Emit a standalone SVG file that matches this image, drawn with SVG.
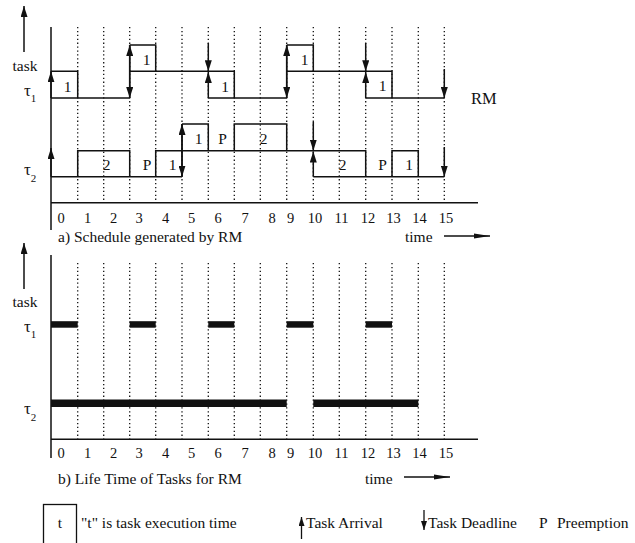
<svg xmlns="http://www.w3.org/2000/svg" width="635" height="543" viewBox="0 0 635 543" font-family="'Liberation Serif', 'Times New Roman', 'DejaVu Serif', serif">
<defs>
<marker id="ah" markerUnits="userSpaceOnUse" markerWidth="11" markerHeight="7" refX="11" refY="3.5" orient="auto">
<path d="M0,0 L11,3.5 L0,7 z" fill="#111"/>
</marker>
<marker id="ahs" markerUnits="userSpaceOnUse" markerWidth="9" markerHeight="6" refX="9" refY="3" orient="auto">
<path d="M0,0 L9,3 L0,6 z" fill="#111"/>
</marker>
<marker id="ta" markerUnits="userSpaceOnUse" markerWidth="16" markerHeight="6" refX="16" refY="3" orient="auto">
<path d="M0,0.5 L16,3 L0,5.5 z" fill="#111"/>
</marker>
</defs>
<style>
.ax{stroke:#111;stroke-width:1.5;fill:none}
.ln{stroke:#111;stroke-width:1.5;fill:none}
.gr{stroke:#111;stroke-width:1.3;stroke-dasharray:1.3,2.6;fill:none}
.ar{stroke:#111;stroke-width:1.5;fill:none;marker-end:url(#ah)}
.t{font-family:'Liberation Serif','Times New Roman','DejaVu Serif',serif;fill:#111}
.num{font-size:14.5px;text-anchor:middle}
.lbl{font-size:15.5px;text-anchor:middle}
.cap{font-size:15.5px}
.bar{fill:#111}
</style>

<g id="top-chart">
<g id="top-grid">
<path class="gr" d="M77.7,27V202.7M103.7,27V202.7M129.7,27V202.7M155.7,27V202.7M182,27V202.7M208.3,27V202.7M234.3,27V202.7M260.3,27V202.7M286.7,27V202.7M313.3,27V202.7M339.3,27V202.7M365.7,27V202.7M392,27V202.7M418.3,27V202.7M444.3,27V202.7"/>
</g>
<g id="top-axes">
<path class="ax" d="M51,27V230M51,202.7H478"/>
<line class="ar" x1="24" y1="52" x2="24" y2="6"/>
<text class="t" x="12.5" y="71" font-size="15.5">task</text>
<text class="t" x="24" y="96" font-size="17">τ<tspan font-size="11" dy="6">1</tspan></text>
<text class="t" x="24" y="175" font-size="17">τ<tspan font-size="11" dy="7">2</tspan></text>
<text class="t" x="471" y="104" font-size="16.5">RM</text>
</g>
<g id="top-numbers" class="t num">
<text x="61" y="222.5">0</text><text x="87.5" y="222.5">1</text><text x="113.5" y="222.5">2</text><text x="139" y="222.5">3</text><text x="165.5" y="222.5">4</text><text x="191.5" y="222.5">5</text><text x="218" y="222.5">6</text><text x="245" y="222.5">7</text><text x="272" y="222.5">8</text><text x="290.5" y="222.5">9</text><text x="315" y="222.5">10</text><text x="341.5" y="222.5">11</text><text x="368" y="222.5">12</text><text x="393.5" y="222.5">13</text><text x="419.5" y="222.5">14</text><text x="446" y="222.5">15</text>
</g>
<text class="t cap" x="58" y="242">a) Schedule generated by RM</text>
<text class="t cap" x="405" y="242">time</text>
<line stroke="#111" stroke-width="1.3" x1="444" y1="236" x2="490" y2="236" marker-end="url(#ta)"/>

<g id="tau1-schedule">
<path class="ln" d="M51,71.3H77.7V98M51,98H129.7M129.7,45H155.7V71.3M129.7,71.3H234.3V98M208.3,98H286.7M286.7,45H313.3V71.3M286.7,71.3H392V98M365.7,98H444.3"/>
<line class="ar" x1="51" y1="98" x2="51" y2="71.3"/>
<line class="ar" x1="129.7" y1="98" x2="129.7" y2="45"/>
<line class="ar" x1="129.7" y1="45" x2="129.7" y2="98"/>
<line class="ar" x1="208.3" y1="43" x2="208.3" y2="71.3"/>
<line class="ar" x1="208.3" y1="98" x2="208.3" y2="72"/>
<line class="ar" x1="286.7" y1="98" x2="286.7" y2="45"/>
<line class="ar" x1="286.7" y1="45" x2="286.7" y2="98"/>
<line class="ar" x1="365.7" y1="43" x2="365.7" y2="71.3"/>
<line class="ar" x1="365.7" y1="98" x2="365.7" y2="72"/>
<line class="ar" x1="444.3" y1="69" x2="444.3" y2="98"/>
<g class="t lbl">
<text x="67.5" y="91.5">1</text><text x="146.5" y="65">1</text><text x="225" y="91.5">1</text><text x="304.5" y="65">1</text><text x="382.5" y="91">1</text>
</g>
</g>

<g id="tau2-schedule">
<path class="ln" d="M51,176.7H182M77.7,176.7V150.7H129.7V176.7M155.7,176.7V150.7H365.7V176.7M182,124H208.3V150.7M234.3,150.7V124H286.7V150.7M313.3,176.7H444.3M392,176.7V150.7H418.3V176.7"/>
<line class="ar" x1="51" y1="176.7" x2="51" y2="148"/>
<line class="ar" x1="182" y1="176.7" x2="182" y2="124"/>
<line class="ar" x1="182" y1="124" x2="182" y2="176.7"/>
<line class="ar" x1="313.3" y1="122" x2="313.3" y2="150.7"/>
<line class="ar" x1="313.3" y1="176.7" x2="313.3" y2="151.5"/>
<line class="ar" x1="444.3" y1="147" x2="444.3" y2="176.7"/>
<g class="t lbl">
<text x="106.5" y="170">2</text><text x="147" y="170">P</text><text x="172.5" y="170">1</text>
<text x="198.5" y="143.5">1</text><text x="222.5" y="143.5">P</text><text x="263.5" y="143.5">2</text>
<text x="342.5" y="169.5">2</text><text x="382.5" y="169.5">P</text><text x="409" y="169.5">1</text>
</g>
</g>
</g>

<g id="bottom-chart">
<g id="bottom-grid">
<path class="gr" d="M77.7,263V439.3M103.7,263V439.3M129.7,263V439.3M155.7,263V439.3M182,263V439.3M208.3,263V439.3M234.3,263V439.3M260.3,263V439.3M286.7,263V439.3M313.3,263V439.3M339.3,263V439.3M365.7,263V439.3M392,263V439.3M418.3,263V439.3M444.3,263V439.3"/>
</g>
<g id="bottom-axes">
<path class="ax" d="M51,255V458M51,439.3H478"/>
<line class="ar" x1="24" y1="289" x2="24" y2="243"/>
<text class="t" x="12.5" y="306.5" font-size="15.5">task</text>
<text class="t" x="24" y="332" font-size="17">τ<tspan font-size="11" dy="6">1</tspan></text>
<text class="t" x="24" y="414" font-size="17">τ<tspan font-size="11" dy="7">2</tspan></text>
</g>
<g id="tau1-lifetime" class="bar">
<rect x="51" y="321.2" width="26.7" height="6.5"/>
<rect x="129.7" y="321.2" width="26" height="6.5"/>
<rect x="208.3" y="321.2" width="26" height="6.5"/>
<rect x="286.7" y="321.2" width="26.6" height="6.5"/>
<rect x="365.7" y="321.2" width="26.3" height="6.5"/>
</g>
<g id="tau2-lifetime" class="bar">
<rect x="51" y="399.5" width="235.7" height="7.5"/>
<rect x="313.3" y="399.5" width="105" height="7.5"/>
</g>
<g id="bottom-numbers" class="t num">
<text x="61" y="458">0</text><text x="87.5" y="458">1</text><text x="113.5" y="458">2</text><text x="139" y="458">3</text><text x="165.5" y="458">4</text><text x="191.5" y="458">5</text><text x="218" y="458">6</text><text x="245" y="458">7</text><text x="272" y="458">8</text><text x="290.5" y="458">9</text><text x="315" y="458">10</text><text x="341.5" y="458">11</text><text x="368" y="458">12</text><text x="393.5" y="458">13</text><text x="419.5" y="458">14</text><text x="446" y="458">15</text>
</g>
<text class="t cap" x="58" y="484">b) Life Time of Tasks for RM</text>
<text class="t cap" x="365" y="484">time</text>
<line stroke="#111" stroke-width="1.3" x1="404" y1="477" x2="450" y2="477" marker-end="url(#ta)"/>
</g>

<g id="legend">
<rect x="43.5" y="504.5" width="33" height="45" fill="none" stroke="#111" stroke-width="1.3"/>
<text class="t" x="60" y="527.5" font-size="15.5" text-anchor="middle">t</text>
<text class="t cap" x="81" y="527.5">"t" is task execution time</text>
<line stroke="#111" stroke-width="1.3" x1="301.5" y1="539" x2="301.5" y2="517" marker-end="url(#ahs)"/>
<text class="t cap" x="306" y="528">Task Arrival</text>
<line stroke="#111" stroke-width="1.3" x1="424" y1="510" x2="424" y2="530" marker-end="url(#ahs)"/>
<text class="t cap" x="428" y="528">Task Deadline</text>
<text class="t cap" x="539" y="528">P</text>
<text class="t cap" x="557" y="528">Preemption</text>
</g>
</svg>
